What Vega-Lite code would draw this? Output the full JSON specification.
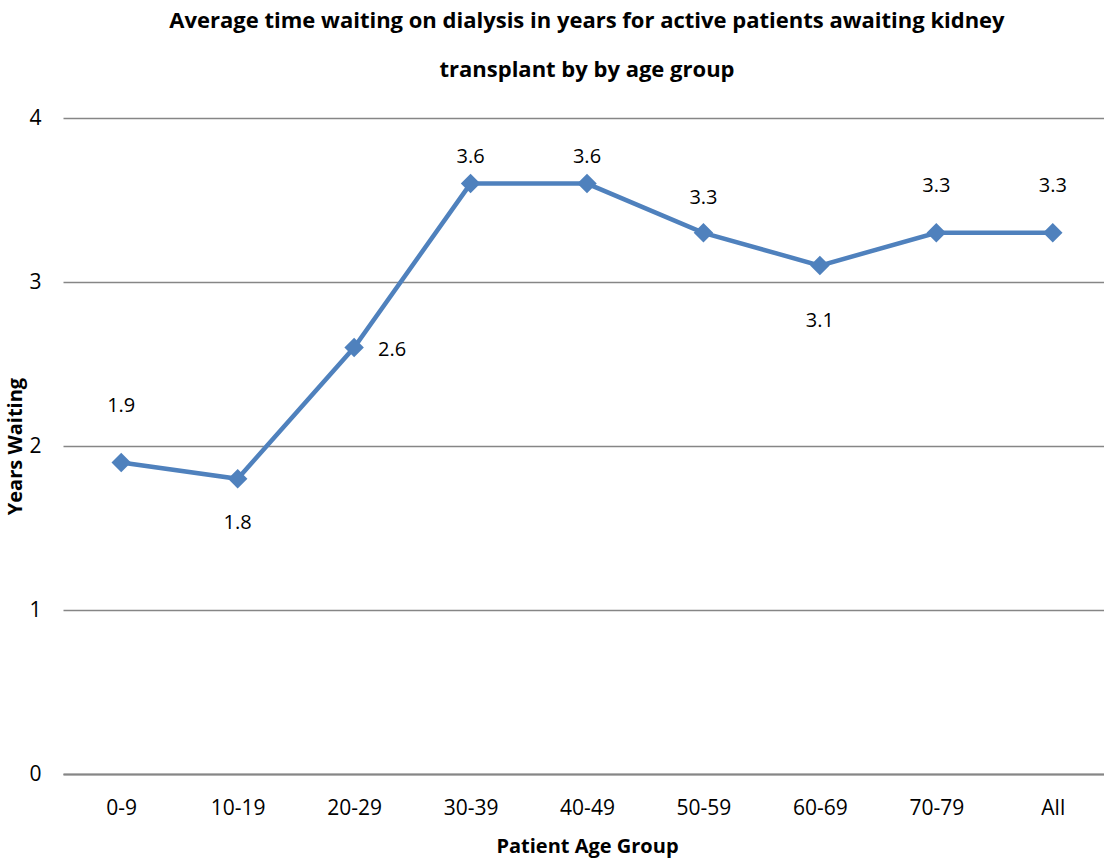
{
  "$schema": "https://vega.github.io/schema/vega-lite/v6.json",
  "width": 1048,
  "height": 656,
  "autosize": {"type": "none"},
  "padding": {"left": 63, "top": 118, "right": 0, "bottom": 87},
  "background": "white",
  "config": {"view": {"stroke": null}, "font": "Open Sans"},
  "title": {
    "text": ["Average time waiting on dialysis in years for active patients awaiting kidney", "transplant by by age group"],
    "fontSize": 22,
    "fontWeight": "bold",
    "font": "Open Sans",
    "lineHeight": 49,
    "anchor": "middle",
    "frame": "group",
    "offset": 25,
    "color": "black"
  },
  "data": {
    "values": [
      {"age": "0-9", "years": 1.9},
      {"age": "10-19", "years": 1.8},
      {"age": "20-29", "years": 2.6},
      {"age": "30-39", "years": 3.6},
      {"age": "40-49", "years": 3.6},
      {"age": "50-59", "years": 3.3},
      {"age": "60-69", "years": 3.1},
      {"age": "70-79", "years": 3.3},
      {"age": "All", "years": 3.3}
    ]
  },
  "encoding": {
    "x": {
      "field": "age", "type": "ordinal", "sort": null,
      "scale": {"type": "point", "padding": 0.5},
      "axis": {
        "title": "Patient Age Group", "titleFontSize": 20, "titleFontWeight": "bold", "titleFont": "Open Sans", "titleColor": "black", "titlePadding": 18,
        "labelAngle": 0, "labelFontSize": 21, "labelColor": "black", "labelPadding": 23,
        "ticks": false, "domainColor": "#868686", "domainWidth": 2, "grid": false
      }
    },
    "y": {
      "field": "years", "type": "quantitative",
      "scale": {"domain": [0, 4]},
      "axis": {
        "title": "Years Waiting", "titleFontSize": 20, "titleFontWeight": "bold", "titleFont": "Open Sans", "titleColor": "black", "titlePadding": 3,
        "values": [0, 1, 2, 3, 4], "format": "d",
        "labelFontSize": 21, "labelColor": "black", "labelPadding": 22,
        "ticks": false, "domain": false, "grid": true, "gridColor": "#868686", "gridWidth": 1.5
      }
    }
  },
  "layer": [
    {"mark": {"type": "line", "color": "#4F81BD", "strokeWidth": 4.5}},
    {"mark": {"type": "point", "shape": "diamond", "filled": true, "color": "#4F81BD", "size": 380, "opacity": 1}},
    {"transform": [{"filter": "datum.age == '0-9'"}], "mark": {"type": "text", "dy": -56, "fontSize": 20, "color": "black"}, "encoding": {"text": {"field": "years", "format": ".1f"}}},
    {"transform": [{"filter": "datum.age == '10-19'"}], "mark": {"type": "text", "dy": 44, "fontSize": 20, "color": "black"}, "encoding": {"text": {"field": "years", "format": ".1f"}}},
    {"transform": [{"filter": "datum.age == '20-29'"}], "mark": {"type": "text", "dx": 38, "dy": 2, "fontSize": 20, "color": "black"}, "encoding": {"text": {"field": "years", "format": ".1f"}}},
    {"transform": [{"filter": "datum.age == '30-39' || datum.age == '40-49'"}], "mark": {"type": "text", "dy": -27, "fontSize": 20, "color": "black"}, "encoding": {"text": {"field": "years", "format": ".1f"}}},
    {"transform": [{"filter": "datum.age == '50-59'"}], "mark": {"type": "text", "dy": -35, "fontSize": 20, "color": "black"}, "encoding": {"text": {"field": "years", "format": ".1f"}}},
    {"transform": [{"filter": "datum.age == '60-69'"}], "mark": {"type": "text", "dy": 55, "fontSize": 20, "color": "black"}, "encoding": {"text": {"field": "years", "format": ".1f"}}},
    {"transform": [{"filter": "datum.age == '70-79' || datum.age == 'All'"}], "mark": {"type": "text", "dy": -47, "fontSize": 20, "color": "black"}, "encoding": {"text": {"field": "years", "format": ".1f"}}}
  ]
}
